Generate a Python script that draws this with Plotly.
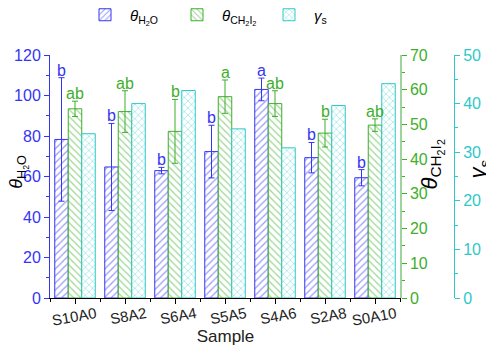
import plotly.graph_objects as go

samples = ["S10A0", "S8A2", "S6A4", "S5A5", "S4A6", "S2A8", "S0A10"]
theta_h2o = [78.3, 64.7, 62.9, 72.3, 103.0, 69.3, 59.4]
theta_h2o_sd = [30.5, 21.5, 1.6, 13.0, 5.6, 7.5, 4.0]
theta_ch2i2 = [54.5, 53.7, 48.0, 58.0, 56.0, 47.5, 49.8]
theta_ch2i2_sd = [2.2, 6.0, 9.2, 4.8, 3.7, 4.0, 1.8]
gamma_s = [33.8, 40.0, 42.7, 34.8, 30.9, 39.6, 44.1]
letters_h2o = ["b", "b", "b", "b", "a", "b", "b"]
letters_ch2i2 = ["ab", "ab", "b", "a", "ab", "b", "ab"]

BLUE = "#3535F5"
GREEN = "#3DAF2A"
CYAN = "#2EC8C8"
FONT = "Liberation Sans, Arial, sans-serif"

x = list(range(len(samples)))
W = 0.27

fig = go.Figure()
fig.add_bar(
    x=x, y=theta_h2o, name="<i>θ</i><sub>H<sub>2</sub>O</sub>", width=W, offset=-1.5 * W,
    marker=dict(color="white", line=dict(color=BLUE, width=1),
                pattern=dict(shape="/", fgcolor=BLUE, bgcolor="white", size=5, solidity=0.25)),
    error_y=dict(type="data", array=theta_h2o_sd, color=BLUE, thickness=1, width=3),
    yaxis="y",
)
fig.add_bar(
    x=x, y=theta_ch2i2, name="<i>θ</i><sub>CH<sub>2</sub>I<sub>2</sub></sub>", width=W, offset=-0.5 * W,
    marker=dict(color="white", line=dict(color=GREEN, width=1),
                pattern=dict(shape="\\", fgcolor=GREEN, bgcolor="white", size=5, solidity=0.25)),
    error_y=dict(type="data", array=theta_ch2i2_sd, color=GREEN, thickness=1, width=3),
    yaxis="y2",
)
fig.add_bar(
    x=x, y=gamma_s, name="<i>γ</i><sub>s</sub>", width=W, offset=0.5 * W,
    marker=dict(color="white", line=dict(color=CYAN, width=1),
                pattern=dict(shape="x", fgcolor=CYAN, bgcolor="white", size=5, solidity=0.25)),
    yaxis="y3",
)

annotations = []
for i in x:
    annotations.append(dict(x=i - W, y=theta_h2o[i] + theta_h2o_sd[i], xref="x", yref="y",
                            text=letters_h2o[i], showarrow=False, yanchor="bottom", yshift=-3,
                            font=dict(size=16, color=BLUE, family=FONT)))
    annotations.append(dict(x=i, y=theta_ch2i2[i] + theta_ch2i2_sd[i], xref="x", yref="y2",
                            text=letters_ch2i2[i], showarrow=False, yanchor="bottom", yshift=-3,
                            font=dict(size=16, color=GREEN, family=FONT)))

# axis titles
annotations.append(dict(x=-0.076, y=0.52, xref="paper", yref="paper", textangle=-90,
                        xanchor="center", yanchor="middle",
                        text="<i>θ</i><sub>H<sub>2</sub>O</sub>", showarrow=False,
                        font=dict(size=18, color="black", family=FONT)))
annotations.append(dict(x=0.91, y=0.55, xref="paper", yref="paper", textangle=-90,
                        xanchor="center", yanchor="middle",
                        text="<i>θ</i><sub>CH<sub>2</sub>I<sub>2</sub></sub>", showarrow=False,
                        font=dict(size=22, color="black", family=FONT)))
annotations.append(dict(x=1.022, y=0.53, xref="paper", yref="paper", textangle=-90,
                        xanchor="center", yanchor="middle",
                        text="<i>γ</i><sub>s</sub>", showarrow=False,
                        font=dict(size=22, color="black", family=FONT)))

# page has an 8px body margin: figure is sized/offset to compensate
dom_end = (393 - 42) / 420
fig.update_layout(
    width=486, height=342,
    margin=dict(l=42, r=24, t=47, b=52, autoexpand=False),
    paper_bgcolor="white", plot_bgcolor="white",
    font=dict(family=FONT, size=15, color="#222"),
    barmode="overlay",
    showlegend=True,
    legend=dict(orientation="h", x=72 / 486, xanchor="left", xref="container",
                y=1 - 7 / 342, yanchor="middle", yref="container", entrywidth=37,
                font=dict(size=15, color="black", family=FONT), itemwidth=40,
                bgcolor="rgba(0,0,0,0)"),
    annotations=annotations,
    xaxis=dict(domain=[0, dom_end], range=[-0.5, 6.52], tickvals=x, ticktext=samples,
               tickangle=-10, showline=True, linecolor="black", linewidth=1,
               ticks="outside", ticklen=5, tickcolor="black", automargin=False,
               ticklabelshift=21, ticklabelstandoff=-4,
               minor=dict(tick0=0.5, dtick=1, ticks="outside", ticklen=3, tickcolor="black"),
               showgrid=False, zeroline=False,
               tickfont=dict(size=15, color="#222"),
               title=dict(text="Sample", font=dict(size=17, color="#222"), standoff=2)),
    yaxis=dict(range=[0, 120], dtick=20, showline=True, linecolor=BLUE, linewidth=1,
               ticks="outside", ticklen=5, tickcolor=BLUE, automargin=False,
               minor=dict(dtick=10, ticks="outside", ticklen=3, tickcolor=BLUE),
               tickfont=dict(size=16, color=BLUE), showgrid=False, zeroline=False),
    yaxis2=dict(range=[0, 70], dtick=10, overlaying="y", side="right", anchor="free",
                position=dom_end, showline=True, linecolor="#9ED49A", linewidth=1.5,
                ticks="outside", ticklen=5, tickcolor=GREEN, automargin=False,
                minor=dict(dtick=5, ticks="outside", ticklen=3, tickcolor=GREEN),
                tickfont=dict(size=16, color=GREEN), showgrid=False, zeroline=False),
    yaxis3=dict(range=[0, 50], dtick=10, overlaying="y", side="right", anchor="free",
                position=(446 - 42) / 420, showline=True, linecolor=CYAN, linewidth=1,
                ticks="outside", ticklen=5, tickcolor=CYAN, automargin=False,
                minor=dict(dtick=5, ticks="outside", ticklen=3, tickcolor=CYAN),
                tickfont=dict(size=16, color=CYAN), showgrid=False, zeroline=False),
)

fig.write_html("out.html")
